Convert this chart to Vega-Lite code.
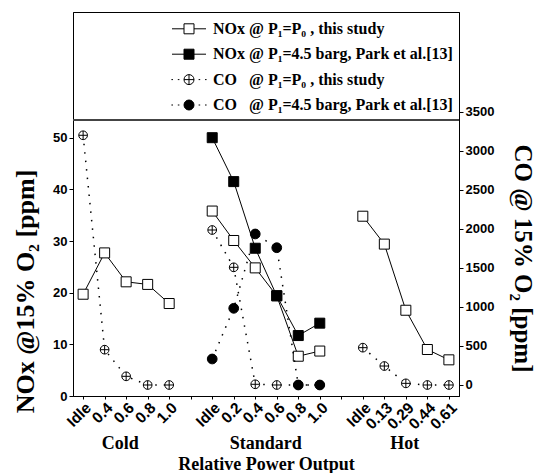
{
  "$schema": "https://vega.github.io/schema/vega-lite/v6.json",
  "width": 386,
  "height": 384,
  "autosize": {"type": "none"},
  "padding": {"left": 73, "top": 12, "right": 79, "bottom": 77},
  "background": "white",
  "config": {
    "view": {"stroke": "black", "strokeWidth": 1},
    "axis": {"grid": false, "domainColor": "black", "tickColor": "black", "labelColor": "black", "titleColor": "black", "labelFont": "Liberation Sans", "labelFontWeight": "bold", "titleFont": "Liberation Serif", "titleFontWeight": "bold"}
  },
  "data": {"values": [
    {"param": "NOx", "series": "NOx_this", "group": "Cold", "cat": "Cold Idle", "value": 19.7},
    {"param": "NOx", "series": "NOx_this", "group": "Cold", "cat": "Cold 0.4", "value": 27.7},
    {"param": "NOx", "series": "NOx_this", "group": "Cold", "cat": "Cold 0.6", "value": 22.1},
    {"param": "NOx", "series": "NOx_this", "group": "Cold", "cat": "Cold 0.8", "value": 21.6},
    {"param": "NOx", "series": "NOx_this", "group": "Cold", "cat": "Cold 1.0", "value": 17.9},
    {"param": "NOx", "series": "NOx_this", "group": "Standard", "cat": "Standard Idle", "value": 35.8},
    {"param": "NOx", "series": "NOx_this", "group": "Standard", "cat": "Standard 0.2", "value": 30.1},
    {"param": "NOx", "series": "NOx_this", "group": "Standard", "cat": "Standard 0.4", "value": 24.8},
    {"param": "NOx", "series": "NOx_this", "group": "Standard", "cat": "Standard 0.6", "value": 19.4},
    {"param": "NOx", "series": "NOx_this", "group": "Standard", "cat": "Standard 0.8", "value": 7.7},
    {"param": "NOx", "series": "NOx_this", "group": "Standard", "cat": "Standard 1.0", "value": 8.7},
    {"param": "NOx", "series": "NOx_this", "group": "Hot", "cat": "Hot Idle", "value": 34.8},
    {"param": "NOx", "series": "NOx_this", "group": "Hot", "cat": "Hot 0.13", "value": 29.4},
    {"param": "NOx", "series": "NOx_this", "group": "Hot", "cat": "Hot 0.29", "value": 16.6},
    {"param": "NOx", "series": "NOx_this", "group": "Hot", "cat": "Hot 0.44", "value": 9.0},
    {"param": "NOx", "series": "NOx_this", "group": "Hot", "cat": "Hot 0.61", "value": 7.0},
    {"param": "NOx", "series": "NOx_Park", "group": "Standard", "cat": "Standard Idle", "value": 50.0},
    {"param": "NOx", "series": "NOx_Park", "group": "Standard", "cat": "Standard 0.2", "value": 41.5},
    {"param": "NOx", "series": "NOx_Park", "group": "Standard", "cat": "Standard 0.4", "value": 28.6},
    {"param": "NOx", "series": "NOx_Park", "group": "Standard", "cat": "Standard 0.6", "value": 19.4},
    {"param": "NOx", "series": "NOx_Park", "group": "Standard", "cat": "Standard 0.8", "value": 11.7},
    {"param": "NOx", "series": "NOx_Park", "group": "Standard", "cat": "Standard 1.0", "value": 14.1},
    {"param": "CO", "series": "CO_this", "group": "Cold", "cat": "Cold Idle", "value": 3198},
    {"param": "CO", "series": "CO_this", "group": "Cold", "cat": "Cold 0.4", "value": 452},
    {"param": "CO", "series": "CO_this", "group": "Cold", "cat": "Cold 0.6", "value": 111},
    {"param": "CO", "series": "CO_this", "group": "Cold", "cat": "Cold 0.8", "value": 0},
    {"param": "CO", "series": "CO_this", "group": "Cold", "cat": "Cold 1.0", "value": 0},
    {"param": "CO", "series": "CO_this", "group": "Standard", "cat": "Standard Idle", "value": 1985},
    {"param": "CO", "series": "CO_this", "group": "Standard", "cat": "Standard 0.2", "value": 1507},
    {"param": "CO", "series": "CO_this", "group": "Standard", "cat": "Standard 0.4", "value": 9},
    {"param": "CO", "series": "CO_this", "group": "Standard", "cat": "Standard 0.6", "value": 0},
    {"param": "CO", "series": "CO_this", "group": "Standard", "cat": "Standard 0.8", "value": 0},
    {"param": "CO", "series": "CO_this", "group": "Standard", "cat": "Standard 1.0", "value": 0},
    {"param": "CO", "series": "CO_this", "group": "Hot", "cat": "Hot Idle", "value": 478},
    {"param": "CO", "series": "CO_this", "group": "Hot", "cat": "Hot 0.13", "value": 243},
    {"param": "CO", "series": "CO_this", "group": "Hot", "cat": "Hot 0.29", "value": 21},
    {"param": "CO", "series": "CO_this", "group": "Hot", "cat": "Hot 0.44", "value": 0},
    {"param": "CO", "series": "CO_this", "group": "Hot", "cat": "Hot 0.61", "value": 0},
    {"param": "CO", "series": "CO_Park", "group": "Standard", "cat": "Standard Idle", "value": 333},
    {"param": "CO", "series": "CO_Park", "group": "Standard", "cat": "Standard 0.2", "value": 982},
    {"param": "CO", "series": "CO_Park", "group": "Standard", "cat": "Standard 0.4", "value": 1934},
    {"param": "CO", "series": "CO_Park", "group": "Standard", "cat": "Standard 0.6", "value": 1758},
    {"param": "CO", "series": "CO_Park", "group": "Standard", "cat": "Standard 0.8", "value": 0},
    {"param": "CO", "series": "CO_Park", "group": "Standard", "cat": "Standard 1.0", "value": 0}
  ]},
  "layer": [
    {
      "transform": [{"filter": "datum.param === 'NOx'"}],
      "layer": [
        {
          "mark": {"type": "line", "stroke": "black", "strokeWidth": 1},
          "encoding": {
            "x": {"field": "cat", "type": "ordinal",
              "scale": {"type": "point", "padding": 0.47, "domain": ["Cold Idle", "Cold 0.4", "Cold 0.6", "Cold 0.8", "Cold 1.0", "gap1", "Standard Idle", "Standard 0.2", "Standard 0.4", "Standard 0.6", "Standard 0.8", "Standard 1.0", "gap2", "Hot Idle", "Hot 0.13", "Hot 0.29", "Hot 0.44", "Hot 0.61"]},
              "axis": {"labelExpr": "slice(datum.label, 0, 3) === 'gap' ? '' : split(datum.label, ' ')[1]", "labelAngle": -45, "labelFontSize": 15.5, "tickSize": 3, "labelPadding": 1, "title": "Relative Power Output", "titleFontSize": 18, "titleY": 68, "titleBaseline": "middle"}},
            "y": {"field": "value", "type": "quantitative",
              "scale": {"domain": [0, 74.33], "nice": false, "zero": false},
              "axis": {"orient": "left", "values": [0, 5, 10, 15, 20, 25, 30, 35, 40, 45, 50, 55], "labelExpr": "datum.value % 10 === 0 ? datum.label : ''", "labelFontSize": 13, "tickSize": {"condition": {"test": "datum.value % 10 === 0", "value": 4}, "value": 2}, "labelPadding": 2, "title": "NOx @15% O₂ [ppm]", "titleFontSize": 26, "titleX": -48, "titleY": 279, "titleBaseline": "middle", "titleAlign": "center"}},
            "detail": [{"field": "series"}, {"field": "group"}],
            "order": {"value": null}
          }
        },
        {
          "transform": [{"filter": "datum.series === 'NOx_this'"}],
          "mark": {"type": "point", "shape": "square", "size": 100, "filled": true, "fill": "white", "stroke": "black", "strokeWidth": 1, "opacity": 1},
          "encoding": {"x": {"field": "cat", "type": "ordinal"}, "y": {"field": "value", "type": "quantitative"}}
        },
        {
          "transform": [{"filter": "datum.series === 'NOx_Park'"}],
          "mark": {"type": "point", "shape": "square", "size": 100, "filled": true, "fill": "black", "stroke": "black", "strokeWidth": 1, "opacity": 1},
          "encoding": {"x": {"field": "cat", "type": "ordinal"}, "y": {"field": "value", "type": "quantitative"}}
        },
        {
          "mark": {"type": "rule", "stroke": "#444", "strokeWidth": 1.5},
          "encoding": {"y": {"datum": 53.43}}
        },
        {
          "mark": {"type": "point", "filled": true, "opacity": 0},
          "encoding": {
            "x": {"field": "cat", "type": "ordinal"},
            "y": {"field": "value", "type": "quantitative"},
            "shape": {"field": "series", "type": "nominal",
              "scale": {"domain": ["NOx_this", "NOx_Park", "CO_this", "CO_Park"],
                "range": [
                  "M-2.125,0H-0.625M0.625,0H2.125M-0.625,-0.625H0.625V0.625H-0.625Z",
                  "M-2.125,0H-0.625M0.625,0H2.125M-0.625,-0.625H0.625V0.625H-0.625Z",
                  "M-2.2,0h0.2M-1.4,0h0.2M1.2,0h0.2M2.0,0h0.2M-0.625,0A0.625,0.625 0 1 0 0.625,0A0.625,0.625 0 1 0 -0.625,0ZM-0.625,0H0.625M0,-0.625V0.625",
                  "M-2.2,0h0.2M-1.4,0h0.2M1.2,0h0.2M2.0,0h0.2M-0.625,0A0.625,0.625 0 1 0 0.625,0A0.625,0.625 0 1 0 -0.625,0Z"
                ]},
              "legend": {"orient": "none", "legendX": 107.5, "legendY": 8.3, "padding": 0, "title": null, "rowPadding": 8.4, "labelOffset": 15.5, "symbolSize": 256, "labelFont": "Liberation Serif", "labelFontWeight": "bold", "labelFontSize": 16, "labelColor": "black", "labelLimit": 0,
                "labelExpr": "{'NOx_this': 'NOx @ P₁=P₀ , this study', 'NOx_Park': 'NOx @ P₁=4.5 barg, Park et al.[13]', 'CO_this': 'CO\u00a0\u00a0 @ P₁=P₀ , this study', 'CO_Park': 'CO\u00a0\u00a0 @ P₁=4.5 barg, Park et al.[13]'}[datum.label]",
                "encode": {"symbols": {"update": {"stroke": {"value": "black"}, "strokeWidth": {"value": 1}, "opacity": {"value": 1}}}}}},
            "fill": {"field": "series", "type": "nominal",
              "scale": {"domain": ["NOx_this", "NOx_Park", "CO_this", "CO_Park"], "range": ["white", "black", "white", "black"]},
              "legend": {"orient": "none", "legendX": 107.5, "legendY": 8.3, "padding": 0, "title": null, "rowPadding": 8.4, "labelOffset": 15.5, "symbolSize": 256, "labelFont": "Liberation Serif", "labelFontWeight": "bold", "labelFontSize": 16, "labelColor": "black", "labelLimit": 0,
                "labelExpr": "{'NOx_this': 'NOx @ P₁=P₀ , this study', 'NOx_Park': 'NOx @ P₁=4.5 barg, Park et al.[13]', 'CO_this': 'CO\u00a0\u00a0 @ P₁=P₀ , this study', 'CO_Park': 'CO\u00a0\u00a0 @ P₁=4.5 barg, Park et al.[13]'}[datum.label]",
                "encode": {"symbols": {"update": {"stroke": {"value": "black"}, "strokeWidth": {"value": 1}, "opacity": {"value": 1}}}}}}
          }
        },
        {
          "data": {"values": [{"name": "Cold", "cat": "Cold 0.6"}]},
          "mark": {"type": "text", "font": "Liberation Serif", "fontWeight": "bold", "fontSize": 18, "color": "black", "dy": 48, "dx": -6},
          "encoding": {"x": {"field": "cat", "type": "ordinal"}, "y": {"datum": 0}, "text": {"field": "name"}}
        },
        {
          "data": {"values": [{"name": "Standard", "cat": "Standard 0.6"}]},
          "mark": {"type": "text", "font": "Liberation Serif", "fontWeight": "bold", "fontSize": 18, "color": "black", "dy": 48, "dx": -11},
          "encoding": {"x": {"field": "cat", "type": "ordinal"}, "y": {"datum": 0}, "text": {"field": "name"}}
        },
        {
          "data": {"values": [{"name": "Hot", "cat": "Hot 0.29"}]},
          "mark": {"type": "text", "font": "Liberation Serif", "fontWeight": "bold", "fontSize": 18, "color": "black", "dy": 48, "dx": -1},
          "encoding": {"x": {"field": "cat", "type": "ordinal"}, "y": {"datum": 0}, "text": {"field": "name"}}
        }
      ]
    },
    {
      "transform": [{"filter": "datum.param === 'CO'"}],
      "layer": [
        {
          "mark": {"type": "line", "stroke": "black", "strokeWidth": 1.5, "strokeDash": [1.5, 7]},
          "encoding": {
            "x": {"field": "cat", "type": "ordinal"},
            "y": {"field": "value", "type": "quantitative",
              "scale": {"domain": [-141, 4777], "nice": false, "zero": false},
              "axis": {"orient": "right", "values": [0, 250, 500, 750, 1000, 1250, 1500, 1750, 2000, 2250, 2500, 2750, 3000, 3250, 3500], "labelExpr": "datum.value % 500 === 0 ? datum.label : ''", "format": "d", "labelFontSize": 13, "tickSize": {"condition": {"test": "datum.value % 500 === 0", "value": 4}, "value": 2}, "labelPadding": 2, "title": "CO @ 15% O₂ [ppm]", "titleFontSize": 25, "titleAngle": 90, "titleX": 63, "titleY": 246, "titleBaseline": "middle", "titleAlign": "center"}},
            "detail": [{"field": "series"}, {"field": "group"}],
            "order": {"value": null}
          }
        },
        {
          "transform": [{"filter": "datum.series === 'CO_this'"}],
          "mark": {"type": "point", "shape": "M-1,0A1,1 0 1 0 1,0A1,1 0 1 0 -1,0ZM-1,0H1M0,-1V1", "size": 76, "filled": true, "fill": "white", "stroke": "black", "strokeWidth": 1, "opacity": 1},
          "encoding": {"x": {"field": "cat", "type": "ordinal"}, "y": {"field": "value", "type": "quantitative"}}
        },
        {
          "transform": [{"filter": "datum.series === 'CO_Park'"}],
          "mark": {"type": "point", "shape": "circle", "size": 95, "filled": true, "fill": "black", "stroke": "black", "strokeWidth": 1, "opacity": 1},
          "encoding": {"x": {"field": "cat", "type": "ordinal"}, "y": {"field": "value", "type": "quantitative"}}
        }
      ]
    }
  ],
  "resolve": {"scale": {"y": "independent"}}
}
